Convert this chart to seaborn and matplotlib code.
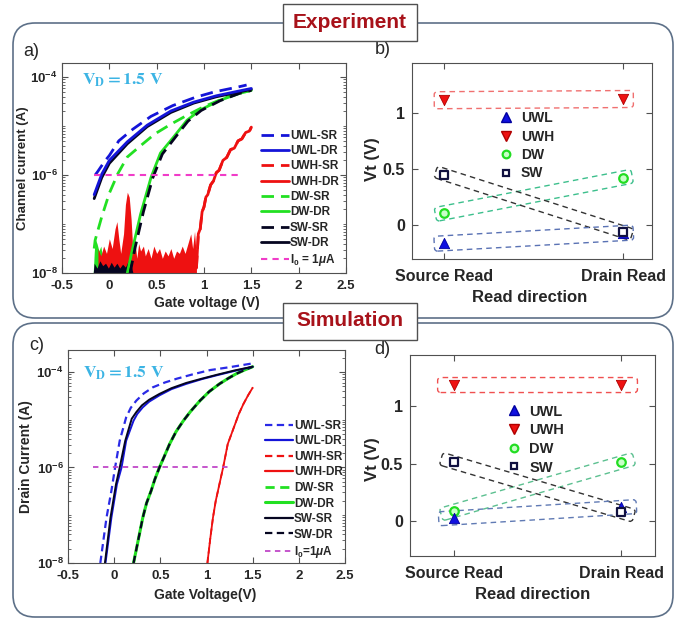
import numpy as np
import matplotlib
matplotlib.use("Agg")
import matplotlib.pyplot as plt
import matplotlib.ticker as mticker
import seaborn as sns
from matplotlib.patches import FancyBboxPatch, Rectangle
from matplotlib.lines import Line2D
from matplotlib.transforms import Affine2D, IdentityTransform

# ---------------- data ----------------
# a) experiment: gate voltage (V) and log10 of channel current (A)
a_uwl_sr_v = [-0.15, -0.12, -0.05, 0.0, 0.1, 0.25, 0.44, 0.67, 0.91, 1.11, 1.36, 1.45]
a_uwl_sr_i = [-6.0, -5.92, -5.72, -5.6, -5.3, -5.06, -4.8, -4.58, -4.41, -4.3, -4.2, -4.16]
a_uwl_dr_v = [-0.16, -0.08, 0.0, 0.19, 0.4, 0.65, 0.89, 1.13, 1.375, 1.5]
a_uwl_dr_i = [-6.4, -5.98, -5.7, -5.32, -4.98, -4.69, -4.51, -4.38, -4.28, -4.23]
a_sw_dr_v = [-0.16, -0.08, 0.0, 0.19, 0.4, 0.65, 0.89, 1.13, 1.375, 1.5]
a_sw_dr_i = [-6.48, -6.05, -5.76, -5.36, -5.01, -4.72, -4.53, -4.4, -4.3, -4.25]
a_dw_sr_v = [-0.16, -0.15, -0.08, 0.0, 0.09, 0.19, 0.33, 0.48, 0.65, 0.8, 1.0, 1.25, 1.5]
a_dw_sr_i = [-7.5, -7.33, -6.85, -6.37, -5.97, -5.63, -5.4, -5.16, -4.96, -4.8, -4.6, -4.4, -4.26]
a_dw_dr_v = [0.19, 0.24, 0.33, 0.44, 0.54, 0.68, 0.82, 0.96, 1.17, 1.375, 1.5]
a_dw_dr_i = [-8.0, -7.55, -6.8, -6.05, -5.55, -5.22, -4.88, -4.67, -4.47, -4.33, -4.27]
a_sw_sr_v = [0.22, 0.27, 0.36, 0.46, 0.56, 0.7, 0.83, 0.97, 1.17, 1.375, 1.5]
a_sw_sr_i = [-8.0, -7.5, -6.75, -6.05, -5.57, -5.22, -4.9, -4.68, -4.48, -4.33, -4.27]
a_uwh_v = [0.92, 0.94, 0.96, 0.98, 1.0, 1.02, 1.04, 1.07, 1.1, 1.13, 1.16, 1.2,
           1.24, 1.28, 1.32, 1.36, 1.4, 1.44, 1.48, 1.5]
a_uwh_i = [-7.9, -7.2, -7.1, -6.75, -6.65, -6.45, -6.4, -6.2, -6.12, -5.95, -5.9, -5.7,
           -5.64, -5.48, -5.45, -5.3, -5.26, -5.13, -5.1, -5.02]
# noise floor envelopes (log10 A)
a_noise_red_v = [-0.12, -0.09, -0.06, -0.03, 0.0, 0.03, 0.06, 0.08, 0.1, 0.12, 0.15, 0.17,
                 0.19, 0.21, 0.23, 0.25, 0.27, 0.29, 0.31, 0.33, 0.36, 0.38, 0.41, 0.44,
                 0.47, 0.5, 0.53, 0.56, 0.59, 0.62, 0.65, 0.68, 0.71, 0.74, 0.77, 0.8,
                 0.83, 0.86, 0.88, 0.9, 0.92]
a_noise_red_i = [-7.5, -7.65, -7.45, -7.6, -7.3, -7.5, -7.1, -6.95, -7.3, -7.6, -7.2, -6.6,
                 -6.35, -6.45, -6.9, -7.6, -7.35, -7.7, -7.4, -7.55, -7.45, -7.65, -7.5, -7.7,
                 -7.45, -7.6, -7.5, -7.7, -7.55, -7.65, -7.5, -7.7, -7.55, -7.6, -7.45, -7.6,
                 -7.4, -7.2, -7.5, -7.15, -7.7]
a_noise_green_v = [-0.17, -0.16, -0.15, -0.13, -0.11, -0.09, -0.07, -0.05, -0.03, 0.0,
                   0.03, 0.06, 0.09, 0.12, 0.15, 0.18, 0.2, 0.22]
a_noise_green_i = [-8.0, -7.6, -7.3, -7.4, -7.55, -7.45, -7.7, -7.6, -7.75, -7.6,
                   -7.8, -7.65, -7.75, -7.6, -7.8, -7.55, -7.7, -8.0]
a_noise_black_v = [-0.17, -0.16, -0.13, -0.1, -0.07, -0.04, -0.01, 0.02, 0.05, 0.08,
                   0.11, 0.14, 0.17, 0.2, 0.23, 0.25]
a_noise_black_i = [-8.0, -7.8, -7.9, -7.75, -7.85, -7.8, -7.9, -7.78, -7.88, -7.8,
                   -7.9, -7.82, -7.88, -7.75, -7.85, -8.0]
a_i0_v = [-0.16, 1.40]

# c) simulation
c_uwl_sr_v = [-0.15, -0.083, -0.03, 0.01, 0.06, 0.13, 0.18, 0.24, 0.32, 0.42, 0.55, 0.68, 0.85, 1.04, 1.25, 1.5]
c_uwl_sr_i = [-8.0, -7.05, -6.49, -6.0, -5.44, -4.95, -4.75, -4.6, -4.45, -4.32, -4.22, -4.14, -4.05, -3.96, -3.9, -3.82]
c_uwl_dr_v = [-0.094, -0.03, 0.03, 0.08, 0.13, 0.21, 0.25, 0.31, 0.38, 0.49, 0.62, 0.78, 0.95, 1.11, 1.3, 1.5]
c_uwl_dr_i = [-8.0, -7.05, -6.35, -6.0, -5.44, -5.02, -4.88, -4.74, -4.62, -4.49, -4.36, -4.25, -4.15, -4.07, -3.98, -3.89]
c_sw_sr_v = [-0.1, -0.04, 0.02, 0.06, 0.12, 0.19, 0.24, 0.3, 0.38, 0.49, 0.62, 0.78, 0.95, 1.11, 1.3, 1.5]
c_sw_sr_i = [-8.0, -7.05, -6.35, -6.0, -5.44, -4.98, -4.84, -4.7, -4.58, -4.46, -4.34, -4.23, -4.14, -4.06, -3.97, -3.89]
c_dw_v = [0.21, 0.31, 0.35, 0.4, 0.44, 0.49, 0.54, 0.6, 0.67, 0.75, 0.83, 0.93, 1.03, 1.14, 1.23, 1.32, 1.41, 1.5]
c_dw_i = [-8.0, -7.05, -6.75, -6.49, -6.25, -6.0, -5.78, -5.51, -5.25, -5.02, -4.82, -4.6, -4.41, -4.25, -4.14, -4.04, -3.96, -3.89]
c_uwh_v = [1.01, 1.04, 1.07, 1.1, 1.14, 1.18, 1.23, 1.27, 1.31, 1.35, 1.4, 1.45, 1.5]
c_uwh_i = [-8.0, -7.5, -7.05, -6.7, -6.35, -6.0, -5.51, -5.3, -5.09, -4.88, -4.67, -4.49, -4.33]
c_i0_v = [-0.23, 1.25]

# b) / d) threshold voltages: [Source Read, Drain Read]
read_pos = [1, 2]
read_labels = ["Source Read", "Drain Read"]
b_uwl = [-0.16, -0.07]
b_uwh = [1.11, 1.12]
b_dw = [0.11, 0.42]
b_sw = [0.45, -0.06]
d_uwl = [0.03, 0.12]
d_uwh = [1.18, 1.18]
d_dw = [0.09, 0.51]
d_sw = [0.51, 0.08]

# ---------------- style ----------------
sns.set_style("ticks", {"xtick.direction": "in", "ytick.direction": "in"})
plt.rcParams["font.family"] = ["Liberation Sans", "DejaVu Sans"]
plt.rcParams["font.weight"] = "bold"
plt.rcParams["axes.labelweight"] = "bold"
plt.rcParams["mathtext.fontset"] = "custom"
plt.rcParams["mathtext.rm"] = "Liberation Sans:bold"
plt.rcParams["mathtext.it"] = "Liberation Sans:italic:bold"
plt.rcParams["mathtext.bf"] = "Liberation Sans:bold"

BLUE, RED, GREEN, BLACK = "#1414d8", "#ee1111", "#22e022", "#050520"
W, H = 688, 619
fig = plt.figure(figsize=(W / 100, H / 100), dpi=100)


def ax_px(l, t, r, b):
    return fig.add_axes([l / W, 1 - b / H, (r - l) / W, (b - t) / H])


def curve(ax, v, logi, color, ls="-", lw=2.0, z=2):
    sns.lineplot(x=v, y=10.0 ** np.array(logi), ax=ax, color=color, linestyle=ls,
                 lw=lw, sort=False, estimator=None, zorder=z)


def matlab_axes(ax, xl, yl):
    for s in ax.spines.values():
        s.set_visible(True)
        s.set_color("#505050")
        s.set_linewidth(0.8)
    ax.tick_params(which="both", direction="in", top=True, right=True, color="#505050")
    ax.tick_params(which="major", length=4)
    ax.tick_params(which="minor", length=2)
    ax.set_xlim(*xl)
    ax.set_ylim(*yl)


def iv_axes(ax, ylim, fs=9.5):
    ax.set_yscale("log")
    matlab_axes(ax, (-0.5, 2.5), ylim)
    ax.xaxis.set_major_locator(mticker.FixedLocator(np.arange(-0.5, 2.51, 0.5)))
    ax.xaxis.set_major_formatter(mticker.FuncFormatter(lambda v, p: f"{v:g}"))
    ax.yaxis.set_major_locator(mticker.FixedLocator([1e-8, 1e-6, 1e-4]))
    ax.yaxis.set_major_formatter(mticker.LogFormatterSciNotation())
    ax.yaxis.set_minor_locator(mticker.LogLocator(base=10, subs=np.arange(1, 10), numticks=50))
    ax.yaxis.set_minor_formatter(mticker.NullFormatter())
    ax.tick_params(labelsize=fs)
    ax.tick_params(axis="x", pad=5)
    ax.tick_params(axis="y", pad=3)


# ---------------- a) experiment I-V ----------------
ax = ax_px(62, 63, 346, 273)
iv_axes(ax, (1e-8, 10 ** -3.71))
ax.fill_between(a_noise_green_v, 1e-8, 10.0 ** np.array(a_noise_green_i), color=GREEN, lw=0, zorder=1)
ax.fill_between(a_noise_red_v, 1e-8, 10.0 ** np.array(a_noise_red_i), color=RED, lw=0, zorder=1.2)
ax.fill_between(a_noise_black_v, 1e-8, 10.0 ** np.array(a_noise_black_i), color=BLACK, lw=0, zorder=1.4)
dash_a = (0, (4.5, 2.5))
curve(ax, a_uwh_v, a_uwh_i, RED)
curve(ax, a_uwh_v, a_uwh_i, RED, dash_a)
curve(ax, a_dw_dr_v, a_dw_dr_i, GREEN)
curve(ax, a_dw_sr_v, a_dw_sr_i, GREEN, dash_a)
curve(ax, a_sw_sr_v, a_sw_sr_i, BLACK, dash_a)
curve(ax, a_sw_dr_v, a_sw_dr_i, BLACK)
curve(ax, a_uwl_dr_v, a_uwl_dr_i, BLUE)
curve(ax, a_uwl_sr_v, a_uwl_sr_i, BLUE, dash_a)
curve(ax, a_i0_v, [-6, -6], "#f03cc8", (0, (3, 2.5)), lw=1.5)
handles = [Line2D([], [], color=BLUE, ls=dash_a, lw=2), Line2D([], [], color=BLUE, lw=2),
           Line2D([], [], color=RED, ls=dash_a, lw=2), Line2D([], [], color=RED, lw=2),
           Line2D([], [], color=GREEN, ls=dash_a, lw=2), Line2D([], [], color=GREEN, lw=2),
           Line2D([], [], color=BLACK, ls=dash_a, lw=2), Line2D([], [], color=BLACK, lw=2),
           Line2D([], [], color="#f03cc8", ls=(0, (3, 2.5)), lw=1.5)]
labels = ["UWL-SR", "UWL-DR", "UWH-SR", "UWH-DR", "DW-SR", "DW-DR", "SW-SR", "SW-DR",
          r"I$_\mathregular{0}$ = 1$\mu$A"]
ax.legend(handles, labels, loc="upper left", bbox_to_anchor=(0.68, 0.71), frameon=False,
          fontsize=8.5, handlelength=2.4, handletextpad=0.05, labelspacing=0.28, borderpad=0)
ax.text(0.07, 0.919, r"$\mathbf{V_D = 1.5\ V}$", transform=ax.transAxes, color="#3cb4e4",
        fontsize=12.5, va="center", math_fontfamily="stix")
ax.set_xlabel("Gate voltage (V)", fontsize=10, va="center")
ax.set_ylabel("Channel current (A)", fontsize=9.5, va="center")
ax.xaxis.set_label_coords(0.51, -0.143)
ax.yaxis.set_label_coords(-0.137, 0.5)

# ---------------- c) simulation I-V ----------------
ax = ax_px(68, 350, 345, 563)
iv_axes(ax, (1e-8, 10 ** -3.54))
dash_c = (0, (3.3, 2))
curve(ax, c_uwh_v, c_uwh_i, RED, lw=1.3)
curve(ax, c_uwh_v, c_uwh_i, RED, dash_c, lw=1.3)
curve(ax, c_dw_v, c_dw_i, GREEN, lw=2.2)
curve(ax, c_dw_v, c_dw_i, GREEN, dash_c, lw=1.6)
curve(ax, c_dw_v, c_dw_i, BLACK, dash_c, lw=1.6)
curve(ax, c_uwl_dr_v, c_uwl_dr_i, BLUE, lw=1.4)
curve(ax, c_sw_sr_v, c_sw_sr_i, BLACK, lw=1.4)
curve(ax, c_uwl_sr_v, c_uwl_sr_i, "#2a2ae6", dash_c, lw=1.6)
curve(ax, c_i0_v, [-6, -6], "#c048c8", (0, (3, 2.5)), lw=1.3)
handles = [Line2D([], [], color="#2a2ae6", ls=dash_c, lw=1.6), Line2D([], [], color=BLUE, lw=1.6),
           Line2D([], [], color=RED, ls=dash_c, lw=1.6), Line2D([], [], color=RED, lw=1.6),
           Line2D([], [], color=GREEN, ls=dash_c, lw=2), Line2D([], [], color=GREEN, lw=2.2),
           Line2D([], [], color=BLACK, lw=1.6), Line2D([], [], color=BLACK, ls=dash_c, lw=1.6),
           Line2D([], [], color="#c048c8", ls=(0, (3, 2.5)), lw=1.3)]
labels = ["UWL-SR", "UWL-DR", "UWH-SR", "UWH-DR", "DW-SR", "DW-DR", "SW-SR", "SW-DR",
          r"I$_\mathregular{0}$=1$\mu$A"]
ax.legend(handles, labels, loc="upper left", bbox_to_anchor=(0.69, 0.70), frameon=False,
          fontsize=8.5, handlelength=2.4, handletextpad=0.05, labelspacing=0.3, borderpad=0)
ax.text(0.054, 0.892, r"$\mathbf{V_D = 1.5\ V}$", transform=ax.transAxes, color="#3cb4e4",
        fontsize=12.5, va="center", math_fontfamily="stix")
ax.set_xlabel("Gate Voltage(V)", fontsize=10, va="center")
ax.set_ylabel("Drain Current (A)", fontsize=10, va="center")
ax.xaxis.set_label_coords(0.495, -0.15)
ax.yaxis.set_label_coords(-0.152, 0.5)


# ---------------- b) / d) threshold voltage ----------------
def pair_box(ax, vals, color, along, half):
    p1 = ax.transData.transform((read_pos[0], vals[0]))
    p2 = ax.transData.transform((read_pos[1], vals[1]))
    d = p2 - p1
    length = np.hypot(d[0], d[1])
    ang = np.degrees(np.arctan2(d[1], d[0]))
    box = FancyBboxPatch((-along, -half), length + 2 * along, 2 * half,
                         boxstyle="round,pad=0,rounding_size=3", fill=False, ec=color,
                         ls=(0, (4, 3)), lw=1.0,
                         transform=Affine2D().rotate_deg(ang).translate(p1[0], p1[1]))
    ax.add_patch(box)


def vt_panel(ax, xl, uwl, uwh, dw, sw, boxes, leg_xy, fs_leg):
    matlab_axes(ax, xl, (-0.3, 1.44))
    ax.set_xticks(read_pos)
    ax.set_xticklabels(read_labels, fontsize=11.5)
    ax.set_yticks([0, 0.5, 1])
    ax.set_yticklabels(["0", "0.5", "1"], fontsize=11.5)
    ax.tick_params(axis="x", pad=7)
    ax.tick_params(axis="y", pad=5)
    for vals, color, along, half in boxes:
        pair_box(ax, vals, color, along, half)
    sns.scatterplot(x=read_pos, y=uwh, ax=ax, marker="v", s=55, color=RED, edgecolor="#b00000", lw=0.6, zorder=4)
    sns.scatterplot(x=read_pos, y=dw, ax=ax, marker="o", s=38, color="#c8ffc8", edgecolor="#22dd22", lw=1.6, zorder=4)
    sns.scatterplot(x=read_pos, y=uwl, ax=ax, marker="^", s=55, color="#1010e0", edgecolor="#0000a0", lw=0.6, zorder=4)
    sns.scatterplot(x=read_pos, y=sw, ax=ax, marker="s", s=26, color="white", edgecolor="#101040", lw=1.6, zorder=5)
    handles = [Line2D([], [], ls="", marker="^", ms=7, color="#1010e0", mec="#0000a0"),
               Line2D([], [], ls="", marker="v", ms=7, color=RED, mec="#b00000"),
               Line2D([], [], ls="", marker="o", ms=5.5, color="#c8ffc8", mec="#22dd22", mew=1.6),
               Line2D([], [], ls="", marker="s", ms=4.5, color="white", mec="#101040", mew=1.6)]
    ax.legend(handles, ["UWL", "UWH", "DW", "SW"], loc="upper left", bbox_to_anchor=leg_xy,
              frameon=False, fontsize=fs_leg, handlelength=1.0, handletextpad=0.55,
              labelspacing=0.32, borderpad=0)
    ax.set_xlabel("Read direction", fontsize=12, va="center")
    ax.set_ylabel("Vt (V)", fontsize=12, va="center")


ax = ax_px(412, 63, 652, 259)
vt_panel(ax, (0.82, 2.16), b_uwl, b_uwh, b_dw, b_sw,
         [(b_uwh, "#f07070", 10, 8.5), (b_dw, "#3cbf8c", 9, 7), (b_sw, "#333333", 9, 6),
          (b_uwl, "#5a72b4", 10, 7.5)], (0.335, 0.79), 10)
ax.xaxis.set_label_coords(0.49, -0.194)
ax.yaxis.set_label_coords(-0.1625, 0.51)

ax = ax_px(410, 355, 655, 556)
vt_panel(ax, (0.74, 2.2), d_uwl, d_uwh, d_dw, d_sw,
         [(d_uwh, "#f05050", 16, 7.5), (d_dw, "#5cc090", 13, 6.5), (d_sw, "#333333", 13, 6.5),
          (d_uwl, "#607ab4", 15, 7)], (0.365, 0.79), 10.5)
ax.xaxis.set_label_coords(0.50, -0.194)
ax.yaxis.set_label_coords(-0.155, 0.48)

# ---------------- frames, titles, panel letters ----------------
px = IdentityTransform()
for y0, h in [(301, 295), (2, 294)]:
    fig.add_artist(FancyBboxPatch((13, y0), 660, h, boxstyle="round,pad=0,rounding_size=22",
                                  fill=False, ec="#5d7088", lw=1.2, transform=px, zorder=1))
for title, y_top, y_c in [("Experiment", 4, 22.5), ("Simulation", 303, 321)]:
    fig.add_artist(Rectangle((283, H - y_top - 37), 134, 37, fc="white", ec="#505050",
                             lw=1.0, transform=px, zorder=5))
    fig.text(350 / W, 1 - y_c / H, title, color="#a8121a", fontsize=15, fontweight="bold",
             ha="center", va="center", zorder=6)
for lab, x, y in [("a)", 31, 52), ("b)", 383, 50), ("c)", 37, 346), ("d)", 382, 350)]:
    fig.text(x / W, 1 - y / H, lab, fontsize=13, fontweight="normal", ha="center", va="center")

plt.savefig("out.png", dpi=100)
